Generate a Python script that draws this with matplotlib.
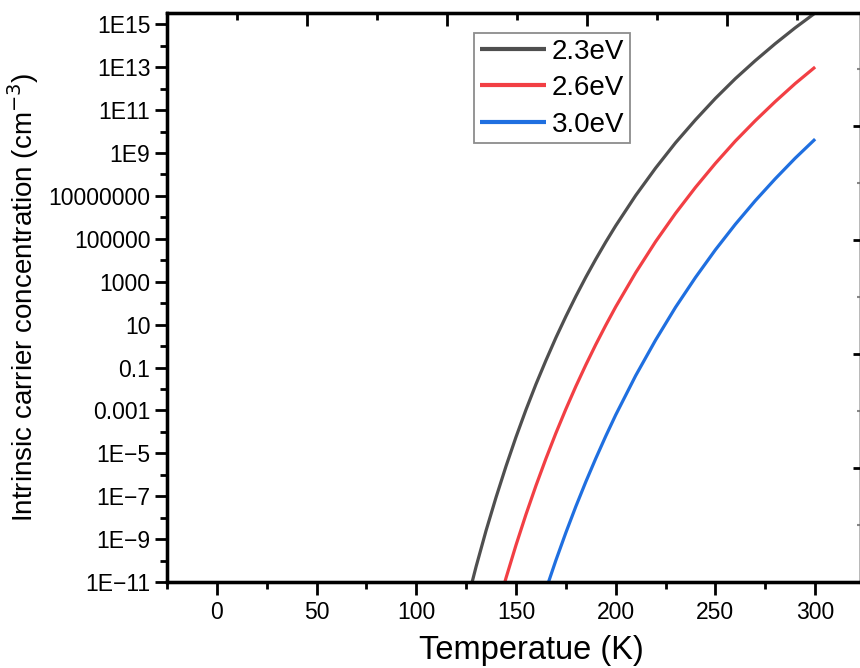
import matplotlib
matplotlib.use("Agg")
import matplotlib.pyplot as plt
from matplotlib.ticker import FixedLocator, FuncFormatter, MultipleLocator, NullFormatter
import numpy as np

plt.rcParams['font.family'] = ['Liberation Sans', 'DejaVu Sans']

# temperatures (K) and log10 of carrier concentration
t_23 = [120, 125, 130, 135, 140, 145, 150, 155, 160, 165, 170, 175, 180, 185, 190, 195, 200,
        210, 220, 230, 240, 250, 260, 270, 280, 290, 300]
n_23 = [-14.05, -12.09, -10.28, -8.60, -7.05, -5.60, -4.24, -2.97, -1.78, -0.67, 0.39, 1.38, 2.32, 3.21, 4.05, 4.85, 5.61,
        7.02, 8.30, 9.48, 10.55, 11.55, 12.47, 13.31, 14.10, 14.84, 15.53]
t_26 = [140, 145, 150, 155, 160, 165, 170, 175, 180, 185, 190, 195, 200,
        210, 220, 230, 240, 250, 260, 270, 280, 290, 300]
n_26 = [-12.45, -10.81, -9.28, -7.85, -6.51, -5.25, -4.06, -2.94, -1.88, -0.88, 0.07, 0.97, 1.83,
        3.42, 4.87, 6.19, 7.40, 8.52, 9.56, 10.51, 11.40, 12.24, 13.01]
t_30 = [160, 165, 170, 175, 180, 185, 190, 195, 200, 210, 220, 230, 240, 250, 260, 270, 280, 290, 300]
n_30 = [-12.81, -11.36, -9.99, -8.70, -7.48, -6.33, -5.24, -4.20, -3.21, -1.38, 0.28, 1.81, 3.20, 4.49,
        5.68, 6.78, 7.80, 8.76, 9.65]

labels = ['2.3eV', '2.6eV', '3.0eV']
colors = ['#4f4f4f', '#f23f44', '#1f6fe0']

fig = plt.figure(figsize=(8.6, 6.68), dpi=100)
ax = fig.add_axes([167/860, 1-582/668, (861-167)/860, (582-13)/668])

for t, n, lab, c in zip([t_23, t_26, t_30], [n_23, n_26, n_30], labels, colors):
    ax.plot(t, 10**np.array(n), color=c, lw=2.3, label=lab, solid_capstyle='butt')

ax.set_yscale('log')
ax.set_xlim(-25, 323)
ax.set_ylim(1e-11, 10**15.53)

def fmt(v, pos):
    e = int(round(np.log10(v)))
    if -3 <= e <= 7:
        return ('%.' + str(max(0, -e)) + 'f') % v
    return '1E' + str(e).replace('-', '\u2212')

ax.yaxis.set_major_locator(FixedLocator([10.0**e for e in range(-11, 16, 2)]))
ax.yaxis.set_minor_locator(FixedLocator([10.0**e for e in range(-10, 16, 2)]))
ax.yaxis.set_major_formatter(FuncFormatter(fmt))
ax.yaxis.set_minor_formatter(NullFormatter())
ax.xaxis.set_major_locator(MultipleLocator(50))
ax.xaxis.set_minor_locator(MultipleLocator(25))

ax.tick_params(axis='both', which='major', direction='out', length=9, width=2, labelsize=16.5, pad=5)
ax.tick_params(axis='y', which='major', pad=3)
ax.tick_params(axis='both', which='minor', direction='out', length=5, width=2)
for s in ax.spines.values():
    s.set_linewidth(2.3)

# mirror axes on top and right (no labels)
axt = ax.twiny()
axt.set_xlim(0, (861-167)/140)
axt.xaxis.set_major_locator(MultipleLocator(1))
axt.xaxis.set_minor_locator(MultipleLocator(0.5))
axt.tick_params(axis='x', which='major', direction='in', length=9, width=2, labeltop=False)
axt.tick_params(axis='x', which='minor', direction='in', length=5, width=2)

axr = ax.twinx()
axr.set_ylim(0, (582-13)/114)
axr.yaxis.set_major_locator(MultipleLocator(1))
axr.yaxis.set_minor_locator(MultipleLocator(0.5))
axr.tick_params(axis='y', which='major', direction='in', length=6, width=2, labelright=False)
axr.tick_params(axis='y', which='minor', direction='in', length=3, width=1.5, color='#888888')
for a in (axt, axr):
    for s in a.spines.values():
        s.set_linewidth(2.3)

ax.set_xlabel('Temperatue (K)', fontsize=23.5)
ax.set_ylabel('Intrinsic carrier concentration (cm$^{-3}$)', fontsize=20)
ax.xaxis.set_label_coords((531-167)/694, -0.093)
ax.yaxis.set_label_coords(-0.182, 0.5)

leg = ax.legend(loc='upper left', bbox_to_anchor=(474/860, 1-33/668), bbox_transform=fig.transFigure,
                fontsize=20, frameon=True, fancybox=False, borderaxespad=0, borderpad=0.2,
                handlelength=2.4, handletextpad=0.2, labelspacing=0.38)
leg.get_frame().set_edgecolor('#707070')
leg.get_frame().set_linewidth(1.3)
for h in leg.get_lines():
    h.set_linewidth(3)

fig.savefig('out.png', dpi=100)
